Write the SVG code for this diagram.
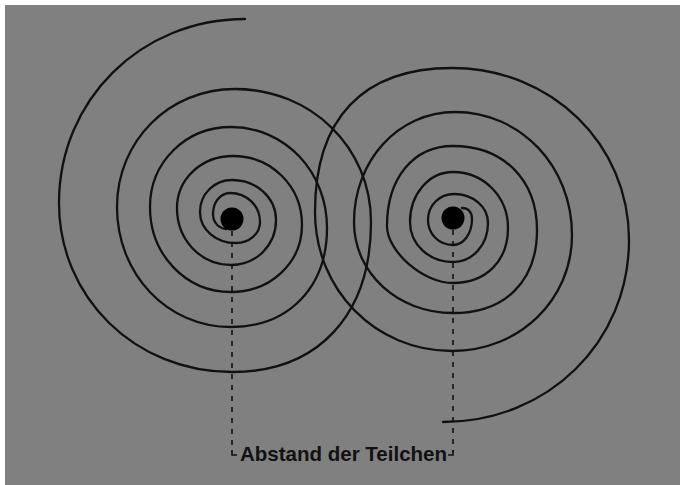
<svg xmlns="http://www.w3.org/2000/svg" width="680" height="485" viewBox="0 0 680 485">
<style>
.sp{fill:none;stroke:#111;stroke-width:2.3;stroke-linecap:round;stroke-linejoin:round}
.dash{fill:none;stroke:#111;stroke-width:1.6;stroke-dasharray:5 6}
.tick{fill:none;stroke:#111;stroke-width:1.6}
.dot{fill:#000}
.lbl{font-family:"Liberation Sans",Arial,sans-serif;font-size:21px;font-weight:bold;fill:#111}
</style>
<rect x="0" y="0" width="680" height="485" fill="#ffffff"/>
<rect x="5" y="5" width="675" height="480" fill="#808080"/>
<g id="spiral-left">
<path class="sp" d="M245,19 C140.8,19 59,100 59,203 C59,297.6 135.1,372 232,372 C318.2,372 371,315 371,222 C371,147.5 311.2,89 235,89 C168.9,89 117,140.9 117,207 C117,274.2 167.2,327 231,327 C288.6,327 327,287.4 327,228 C327,171.4 284.8,127 231,127 C185.6,127 150,162.2 150,207 C150,254.6 185.6,292 231,292 C270.8,292 302,262.5 302,225 C302,186.4 271.6,156 233,156 C201.6,156 177,178.9 177,208 C177,239.9 200.8,265 231,265 C256.2,265 276,245.2 276,220 C276,197.6 256.6,180 232,180 C214.1,180 200,194.1 200,212 C200,229.4 215.8,243 236,243 C249.4,243 260,233.8 260,222 C260,205.8 246.8,193 230,193 C220.5,193 213,202.2 213,214 C213,222 218,228 226,229"/>
<circle class="dot" cx="232" cy="219" r="11.5"/>
</g>
<g id="spiral-right">
<path class="sp" d="M443,422 C548,422 629,342 629,240 C629,143.7 551.1,68 452,68 C363,68 315,118.4 315,212 C315,289.8 375.3,351 452,351 C519.2,351 572,300 572,235 C572,166.1 520.5,112 455,112 C398.4,112 354,160.4 354,222 C354,273 397.6,313 453,313 C505,313 537,281.5 537,230 C537,179.6 503.4,146 453,146 C413.4,146 387,178 387,226 C387,251.6 423.3,283 453,283 C486,283 508,261 508,228 C508,196.6 483.8,172 453,172 C429,172 410,194 410,222 C410,244.4 429,262 453,262 C472.6,262 488,244.8 488,223 C488,206.8 473,194 454,194 C439.4,194 428,205.4 428,220 C428,234 439,245 453,245 C463.6,245 472,233.6 472,219 C472,212 468,208 462,208"/>
<circle class="dot" cx="453" cy="218" r="11.5"/>
</g>
<g id="connectors">
<path class="dash" d="M232,231 V452"/>
<path class="dash" d="M453,230 V452"/>
<path class="tick" d="M232,450 V455 H237"/>
<path class="tick" d="M453,450 V455 H448"/>
</g>
<g id="label">
<text class="lbl" x="240" y="461" textLength="207" lengthAdjust="spacingAndGlyphs">Abstand der Teilchen</text>
</g>
</svg>
